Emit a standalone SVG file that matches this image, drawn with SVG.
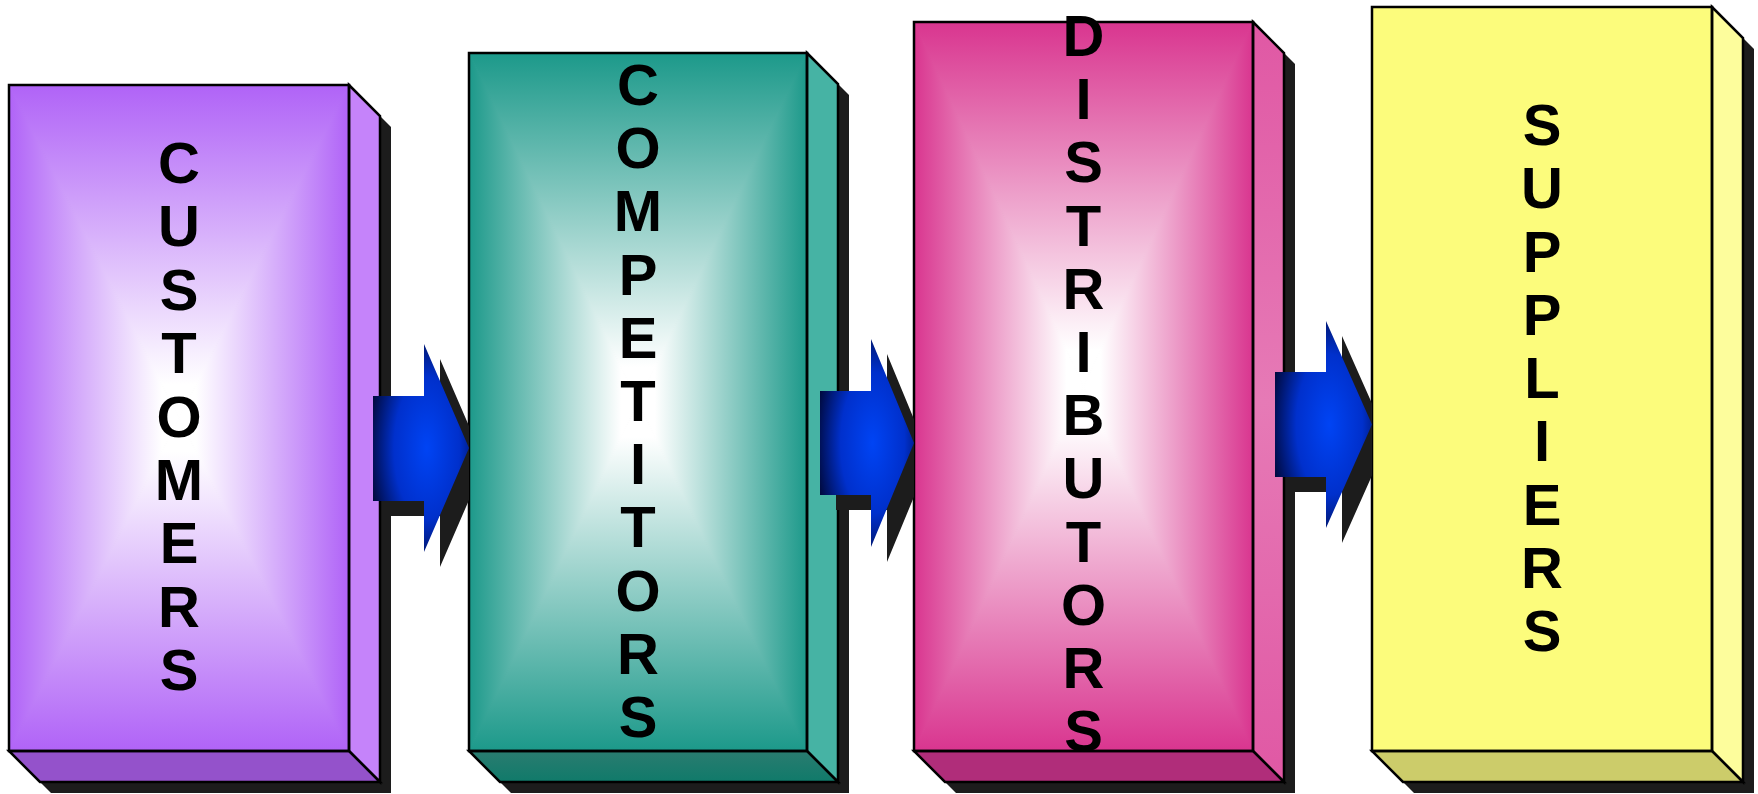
<svg xmlns="http://www.w3.org/2000/svg" width="1758" height="794" viewBox="0 0 1758 794">
<style>
.ol{fill:none;stroke:#000;stroke-width:2.5;stroke-linejoin:miter}
.sh{fill:#1c1c1c}
.tri{stroke-width:1.2;stroke-linejoin:round}
.lbl{font-family:"Liberation Sans",Arial,sans-serif;font-weight:bold;font-size:58px;fill:#000;text-anchor:middle}
</style>
<defs>
<linearGradient id="pt" x1="0" y1="0" x2="0" y2="1"><stop offset="0" stop-color="#b063f7"/><stop offset="0.9" stop-color="#ffffff"/></linearGradient>
<linearGradient id="pb" x1="0" y1="1" x2="0" y2="0"><stop offset="0" stop-color="#b063f7"/><stop offset="0.9" stop-color="#ffffff"/></linearGradient>
<linearGradient id="pl" x1="0" y1="0" x2="1" y2="0"><stop offset="0" stop-color="#b063f7"/><stop offset="0.9" stop-color="#ffffff"/></linearGradient>
<linearGradient id="pr" x1="1" y1="0" x2="0" y2="0"><stop offset="0" stop-color="#b063f7"/><stop offset="0.9" stop-color="#ffffff"/></linearGradient>
<linearGradient id="tt" x1="0" y1="0" x2="0" y2="1"><stop offset="0" stop-color="#1c998a"/><stop offset="0.9" stop-color="#ffffff"/></linearGradient>
<linearGradient id="tb" x1="0" y1="1" x2="0" y2="0"><stop offset="0" stop-color="#1c998a"/><stop offset="0.9" stop-color="#ffffff"/></linearGradient>
<linearGradient id="tl" x1="0" y1="0" x2="1" y2="0"><stop offset="0" stop-color="#1c998a"/><stop offset="0.9" stop-color="#ffffff"/></linearGradient>
<linearGradient id="tr" x1="1" y1="0" x2="0" y2="0"><stop offset="0" stop-color="#1c998a"/><stop offset="0.9" stop-color="#ffffff"/></linearGradient>
<linearGradient id="kt" x1="0" y1="0" x2="0" y2="1"><stop offset="0" stop-color="#d9358f"/><stop offset="0.9" stop-color="#ffffff"/></linearGradient>
<linearGradient id="kb" x1="0" y1="1" x2="0" y2="0"><stop offset="0" stop-color="#d9358f"/><stop offset="0.9" stop-color="#ffffff"/></linearGradient>
<linearGradient id="kl" x1="0" y1="0" x2="1" y2="0"><stop offset="0" stop-color="#d9358f"/><stop offset="0.9" stop-color="#ffffff"/></linearGradient>
<linearGradient id="kr" x1="1" y1="0" x2="0" y2="0"><stop offset="0" stop-color="#d9358f"/><stop offset="0.9" stop-color="#ffffff"/></linearGradient>
<linearGradient id="tbot" x1="0" y1="0" x2="0" y2="1"><stop offset="0" stop-color="#2a7c70"/><stop offset="1" stop-color="#107a6a"/></linearGradient>
<linearGradient id="kside" x1="0" y1="0" x2="0" y2="1"><stop offset="0" stop-color="#e058a4"/><stop offset="0.5" stop-color="#e67ab6"/><stop offset="1" stop-color="#e058a4"/></linearGradient>
<radialGradient id="ar" cx="0.56" cy="0.5" r="0.62"><stop offset="0" stop-color="#0044f4"/><stop offset="0.55" stop-color="#0030cc"/><stop offset="1" stop-color="#000838"/></radialGradient>
<clipPath id="c1"><rect x="0" y="0" width="469" height="794"/></clipPath>
<clipPath id="c2"><rect x="0" y="0" width="914" height="794"/></clipPath>
<clipPath id="c3"><rect x="0" y="0" width="1372" height="794"/></clipPath>
</defs>

<g id="customers">
<polygon class="sh" points="20,96 360,96 391,127 391,793 51,793 20,762"/>
<polygon class="tri" fill="url(#pt)" stroke="url(#pt)" points="9,85 349,85 179,418"/>
<polygon class="tri" fill="url(#pr)" stroke="url(#pr)" points="349,85 349,751 179,418"/>
<polygon class="tri" fill="url(#pb)" stroke="url(#pb)" points="349,751 9,751 179,418"/>
<polygon class="tri" fill="url(#pl)" stroke="url(#pl)" points="9,751 9,85 179,418"/>
<polygon class="ol" style="fill:#c583fa" points="349,85 380,116 380,782 349,751"/>
<polygon class="ol" style="fill:#9452cb" points="9,751 349,751 380,782 40,782"/>
<rect class="ol" x="9" y="85" width="340" height="666"/>
<text class="lbl" x="179" y="183">C<tspan x="179" dy="63.4">U</tspan><tspan x="179" dy="63.4">S</tspan><tspan x="179" dy="63.4">T</tspan><tspan x="179" dy="63.4">O</tspan><tspan x="179" dy="63.4">M</tspan><tspan x="179" dy="63.4">E</tspan><tspan x="179" dy="63.4">R</tspan><tspan x="179" dy="63.4">S</tspan></text>
</g>

<g id="competitors">
<polygon class="sh" points="480,64 818,64 849,95 849,793 511,793 480,762"/>
<polygon class="tri" fill="url(#tt)" stroke="url(#tt)" points="469,53 807,53 638,402"/>
<polygon class="tri" fill="url(#tr)" stroke="url(#tr)" points="807,53 807,751 638,402"/>
<polygon class="tri" fill="url(#tb)" stroke="url(#tb)" points="807,751 469,751 638,402"/>
<polygon class="tri" fill="url(#tl)" stroke="url(#tl)" points="469,751 469,53 638,402"/>
<polygon class="ol" style="fill:#46b3a4" points="807,53 838,84 838,782 807,751"/>
<polygon class="ol" style="fill:url(#tbot)" points="469,751 807,751 838,782 500,782"/>
<rect class="ol" x="469" y="53" width="338" height="698"/>
<text class="lbl" x="638" y="105">C<tspan x="638" dy="63.2">O</tspan><tspan x="638" dy="63.2">M</tspan><tspan x="638" dy="63.2">P</tspan><tspan x="638" dy="63.2">E</tspan><tspan x="638" dy="63.2">T</tspan><tspan x="638" dy="63.2">I</tspan><tspan x="638" dy="63.2">T</tspan><tspan x="638" dy="63.2">O</tspan><tspan x="638" dy="63.2">R</tspan><tspan x="638" dy="63.2">S</tspan></text>
</g>

<g id="distributors">
<polygon class="sh" points="925,33 1264,33 1295,64 1295,793 956,793 925,762"/>
<polygon class="tri" fill="url(#kt)" stroke="url(#kt)" points="914,22 1253,22 1083.5,386.5"/>
<polygon class="tri" fill="url(#kr)" stroke="url(#kr)" points="1253,22 1253,751 1083.5,386.5"/>
<polygon class="tri" fill="url(#kb)" stroke="url(#kb)" points="1253,751 914,751 1083.5,386.5"/>
<polygon class="tri" fill="url(#kl)" stroke="url(#kl)" points="914,751 914,22 1083.5,386.5"/>
<polygon class="ol" style="fill:url(#kside)" points="1253,22 1284,53 1284,782 1253,751"/>
<polygon class="ol" style="fill:#b02d7a" points="914,751 1253,751 1284,782 945,782"/>
<rect class="ol" x="914" y="22" width="339" height="729"/>
<text class="lbl" x="1083.5" y="56">D<tspan x="1083.5" dy="63.2">I</tspan><tspan x="1083.5" dy="63.2">S</tspan><tspan x="1083.5" dy="63.2">T</tspan><tspan x="1083.5" dy="63.2">R</tspan><tspan x="1083.5" dy="63.2">I</tspan><tspan x="1083.5" dy="63.2">B</tspan><tspan x="1083.5" dy="63.2">U</tspan><tspan x="1083.5" dy="63.2">T</tspan><tspan x="1083.5" dy="63.2">O</tspan><tspan x="1083.5" dy="63.2">R</tspan><tspan x="1083.5" dy="63.2">S</tspan></text>
</g>

<g id="suppliers">
<polygon class="sh" points="1383,18 1723,18 1754,49 1754,793 1414,793 1383,762"/>
<rect x="1372" y="7" width="340" height="744" fill="#fcfc7c"/>
<polygon class="ol" style="fill:#fdfd9c" points="1712,7 1743,38 1743,782 1712,751"/>
<polygon class="ol" style="fill:#cccc6a" points="1372,751 1712,751 1743,782 1403,782"/>
<rect class="ol" x="1372" y="7" width="340" height="744"/>
<text class="lbl" x="1542" y="145">S<tspan x="1542" dy="63.25">U</tspan><tspan x="1542" dy="63.25">P</tspan><tspan x="1542" dy="63.25">P</tspan><tspan x="1542" dy="63.25">L</tspan><tspan x="1542" dy="63.25">I</tspan><tspan x="1542" dy="63.25">E</tspan><tspan x="1542" dy="63.25">R</tspan><tspan x="1542" dy="63.25">S</tspan></text>
</g>

<g id="connectors">
<g clip-path="url(#c1)"><path class="sh" transform="translate(16,15)" d="M373,396 H424 V344 L469,448 L424,552 V501 H373 Z"/></g>
<path fill="url(#ar)" d="M373,396 H424 V344 L469,448 L424,552 V501 H373 Z"/>
<g clip-path="url(#c2)"><path class="sh" transform="translate(16,15)" d="M820,391 H871 V339 L914,443 L871,547 V495 H820 Z"/></g>
<path fill="url(#ar)" d="M820,391 H871 V339 L914,443 L871,547 V495 H820 Z"/>
<g clip-path="url(#c3)"><path class="sh" transform="translate(16,15)" d="M1275,372 H1326 V321 L1372,424.5 L1326,528 V477 H1275 Z"/></g>
<path fill="url(#ar)" d="M1275,372 H1326 V321 L1372,424.5 L1326,528 V477 H1275 Z"/>
</g>
</svg>
